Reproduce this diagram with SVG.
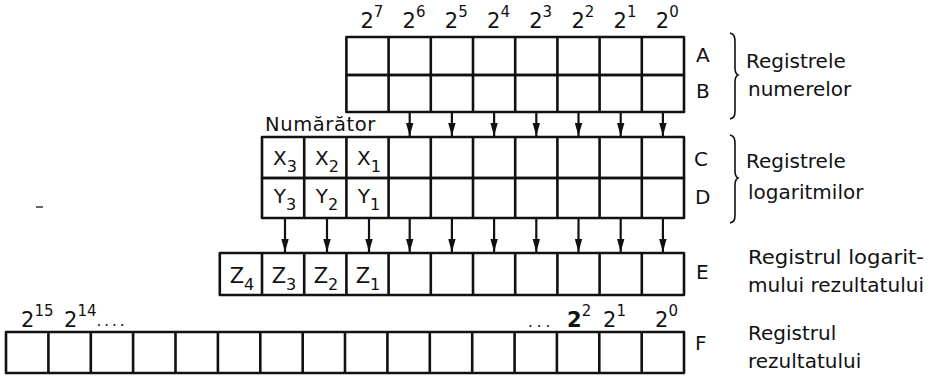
<svg xmlns="http://www.w3.org/2000/svg" width="931" height="380" viewBox="0 0 931 380">
<style>
.cell{fill:none;stroke:#111;stroke-width:2.6;stroke-linejoin:round}
.div{stroke:#111;stroke-width:2.6}
.t{font-family:"DejaVu Sans","Liberation Sans",sans-serif;fill:#111}
.lbl{font-size:20px}
.big{font-size:21px}
.sm{font-size:20px}
.sup{font-size:15px}
.sub{font-size:16px}
.arr{stroke:#111;stroke-width:2.2;fill:none}
.brace{fill:none;stroke:#111;stroke-width:1.6}
</style>
<defs>
<marker id="ah" markerUnits="userSpaceOnUse" markerWidth="13" markerHeight="8" refX="13" refY="4" orient="auto" viewBox="0 0 13 8">
<path d="M0,0.3 L13,4 L0,7.7 Z" fill="#111"/>
</marker>
</defs>
<rect width="931" height="380" fill="#fff"/>

<g id="exp-top" class="t big">
<text x="360.4" y="28">2<tspan class="sup" dy="-11">7</tspan></text>
<text x="402.6" y="28">2<tspan class="sup" dy="-11">6</tspan></text>
<text x="444.8" y="28">2<tspan class="sup" dy="-11">5</tspan></text>
<text x="487" y="28">2<tspan class="sup" dy="-11">4</tspan></text>
<text x="529.2" y="28">2<tspan class="sup" dy="-11">3</tspan></text>
<text x="571.4" y="28">2<tspan class="sup" dy="-11">2</tspan></text>
<text x="613.6" y="28">2<tspan class="sup" dy="-11">1</tspan></text>
<text x="655.8" y="28">2<tspan class="sup" dy="-11">0</tspan></text>
</g>

<g id="regA">
<rect class="cell" x="346.4" y="37" width="337.6" height="38"/>
<path class="div" d="M388.6,37V75M430.8,37V75M473,37V75M515.2,37V75M557.4,37V75M599.6,37V75M641.8,37V75"/>
<text class="t lbl" x="696" y="62">A</text>
</g>
<g id="regB">
<rect class="cell" x="346.4" y="75" width="337.6" height="37"/>
<path class="div" d="M388.6,75V112M430.8,75V112M473,75V112M515.2,75V112M557.4,75V112M599.6,75V112M641.8,75V112"/>
<text class="t lbl" x="696" y="98">B</text>
</g>
<g id="label-AB">
<path class="brace" d="M730,33 C734.5,34 735,37 735,43 L735,68 C735,72 736,74 738,75 C736,76 735,78 735,82 L735,111 C735,116 734,118 730,119"/>
<text class="t lbl" x="746" y="68">Registrele</text>
<text class="t lbl" x="748" y="96">numerelor</text>
</g>

<g id="numarator">
<text class="t" x="265" y="131" font-size="19.5" letter-spacing="0.6">Numărător</text>
</g>

<g id="regC">
<rect class="cell" x="262" y="137" width="422" height="41"/>
<path class="div" d="M304.2,137V178M346.4,137V178M388.6,137V178M430.8,137V178M473,137V178M515.2,137V178M557.4,137V178M599.6,137V178M641.8,137V178"/>
<g class="t sm" text-anchor="middle">
<text x="285" y="165">X<tspan class="sub" dy="7">3</tspan></text>
<text x="327" y="165">X<tspan class="sub" dy="7">2</tspan></text>
<text x="369" y="165">X<tspan class="sub" dy="7">1</tspan></text>
</g>
<text class="t lbl" x="694" y="166">C</text>
</g>
<g id="regD">
<rect class="cell" x="262" y="178" width="422" height="40"/>
<path class="div" d="M304.2,178V218M346.4,178V218M388.6,178V218M430.8,178V218M473,178V218M515.2,178V218M557.4,178V218M599.6,178V218M641.8,178V218"/>
<g class="t sm" text-anchor="middle">
<text x="285" y="203">Y<tspan class="sub" dy="7">3</tspan></text>
<text x="327" y="203">Y<tspan class="sub" dy="7">2</tspan></text>
<text x="369" y="203">Y<tspan class="sub" dy="7">1</tspan></text>
</g>
<text class="t lbl" x="695" y="204">D</text>
</g>
<g id="label-CD">
<path class="brace" d="M730,135 C734.5,136 735,139 735,145 L735,171 C735,175 736,177 738,178 C736,179 735,181 735,185 L735,215 C735,220 734,222 730,223"/>
<text class="t lbl" x="746" y="168">Registrele</text>
<text class="t lbl" x="748" y="199">logaritmilor</text>
</g>

<g id="regE">
<rect class="cell" x="219.8" y="253" width="464.2" height="42"/>
<path class="div" d="M262,253V295M304.2,253V295M346.4,253V295M388.6,253V295M430.8,253V295M473,253V295M515.2,253V295M557.4,253V295M599.6,253V295M641.8,253V295"/>
<g class="t big" text-anchor="middle">
<text x="242" y="283">Z<tspan class="sub" dy="7">4</tspan></text>
<text x="284" y="283">Z<tspan class="sub" dy="7">3</tspan></text>
<text x="326" y="283">Z<tspan class="sub" dy="7">2</tspan></text>
<text x="368" y="283">Z<tspan class="sub" dy="7">1</tspan></text>
</g>
<text class="t lbl" x="696" y="279">E</text>
<text class="t lbl" x="748" y="264" textLength="176" lengthAdjust="spacingAndGlyphs">Registrul logarit-</text>
<text class="t lbl" x="748" y="292" textLength="176" lengthAdjust="spacingAndGlyphs">mului rezultatului</text>
</g>

<g id="exp-F" class="t big">
<text x="21" y="327">2<tspan class="sup" dy="-11">15</tspan></text>
<text x="64" y="327">2<tspan class="sup" dy="-11">14</tspan><tspan class="sup" dy="10" letter-spacing="3">....</tspan></text>
<text x="528" y="327" class="sup" letter-spacing="4">...</text>
<text x="567" y="327" font-weight="bold">2<tspan class="sup" dy="-11" font-weight="normal">2</tspan></text>
<text x="603" y="327">2<tspan class="sup" dy="-11">1</tspan></text>
<text x="655" y="327">2<tspan class="sup" dy="-11">0</tspan></text>
</g>

<g id="regF">
<rect class="cell" x="6" y="332" width="678" height="41"/>
<path class="div" d="M48.4,332V373M90.8,332V373M133.1,332V373M175.5,332V373M217.9,332V373M260.3,332V373M302.7,332V373M345,332V373M387.4,332V373M429.8,332V373M472.2,332V373M514.6,332V373M556.9,332V373M599.3,332V373M641.7,332V373"/>
<text class="t lbl" x="695" y="350">F</text>
<text class="t lbl" x="748" y="340">Registrul</text>
<text class="t lbl" x="748" y="368">rezultatului</text>
</g>

<g id="connectors">
<g class="arr" marker-end="url(#ah)">
<path d="M409.7,113V136"/>
<path d="M451.9,113V136"/>
<path d="M494.1,113V136"/>
<path d="M536.3,113V136"/>
<path d="M578.5,113V136"/>
<path d="M620.7,113V136"/>
<path d="M662.9,113V136"/>
<path d="M285,219V252"/>
<path d="M327,219V252"/>
<path d="M369,219V252"/>
<path d="M409.7,219V252"/>
<path d="M451.9,219V252"/>
<path d="M494.1,219V252"/>
<path d="M536.3,219V252"/>
<path d="M578.5,219V252"/>
<path d="M620.7,219V252"/>
<path d="M662.9,219V252"/>
</g>
</g>
<path d="M36,207H43" stroke="#333" stroke-width="1.5"/>
</svg>
